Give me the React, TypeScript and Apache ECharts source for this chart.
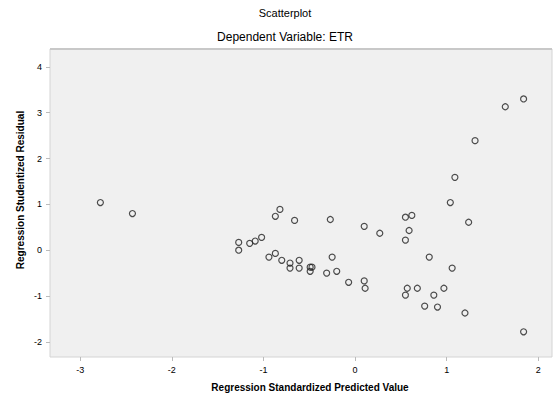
import React, { useEffect, useRef } from "react";
import * as echarts from "echarts";

const xTicks = [-3, -2, -1, 0, 1, 2];
const yTicks = [-2, -1, 0, 1, 2, 3, 4];

const predicted = [
  -2.78, -2.43, -0.87, -0.82, -0.66, -1.27, -1.27, -1.15, -1.09, -1.02,
  -0.94, -0.87, -0.8, -0.71, -0.71, -0.61, -0.61, -0.49, -0.49, 1.09,
  1.04, 1.24, -0.27, 0.1, 0.27, 0.55, 0.62, 0.59, 0.55, 0.81,
  -0.25, -0.47, -0.31, -0.2, -0.07, 0.1, 0.11, 0.57, 0.68, 0.55,
  0.86, 0.97, 1.06, 0.76, 0.9, 1.2, 1.84, 1.84, 1.64, 1.31,
];
const residual = [
  1.04, 0.8, 0.74, 0.89, 0.65, 0.0, 0.17, 0.15, 0.2, 0.28,
  -0.15, -0.07, -0.22, -0.28, -0.39, -0.22, -0.39, -0.37, -0.46, 1.59,
  1.04, 0.61, 0.67, 0.52, 0.37, 0.72, 0.76, 0.43, 0.22, -0.15,
  -0.15, -0.37, -0.5, -0.46, -0.7, -0.67, -0.83, -0.83, -0.83, -0.98,
  -0.98, -0.83, -0.39, -1.22, -1.24, -1.37, -1.78, 3.3, 3.13, 2.39,
];

const titleText = "Scatterplot";
const subtitleText = "Dependent Variable: ETR";
const xName = "Regression Standardized Predicted Value";
const yName = "Regression Studentized Residual";

export default function App() {
  const ref = useRef<HTMLDivElement>(null);
  useEffect(() => {
    if (!ref.current) return;
    const chart = echarts.init(ref.current, null, { renderer: "svg" });
    const font = "Liberation Sans, Arial, sans-serif";
    chart.setOption({
      animation: false,
      backgroundColor: "#ffffff",
      grid: {
        left: 50,
        right: 3,
        top: 49,
        bottom: 40,
        show: true,
        backgroundColor: "#f0f0f0",
        borderColor: "#d4d4d4",
        borderWidth: 1,
      },
      graphic: [
        {
          type: "text",
          x: 285,
          y: 13,
          style: { text: titleText, font: `11px ${font}`, fill: "#000", textAlign: "center", textVerticalAlign: "middle" },
        },
        {
          type: "text",
          x: 285,
          y: 37,
          style: { text: subtitleText, font: `12px ${font}`, fill: "#000", textAlign: "center", textVerticalAlign: "middle" },
        },
        {
          type: "text",
          x: 310,
          y: 387,
          style: { text: xName, font: `bold 10px ${font}`, fill: "#000", textAlign: "center", textVerticalAlign: "middle" },
        },
        {
          type: "text",
          x: 20,
          y: 190,
          rotation: Math.PI / 2,
          style: { text: yName, font: `bold 10px ${font}`, fill: "#000", textAlign: "center", textVerticalAlign: "middle" },
        },
        {
          type: "rect",
          shape: { x: 50, y: 48, width: 502, height: 2 },
          style: { fill: "#c8c8c8" },
          silent: true,
        },
      ],
      xAxis: {
        type: "value",
        min: -3.33,
        max: 2.15,
        splitLine: { show: false },
        axisLine: { show: false, onZero: false },
        axisTick: { show: true, customValues: xTicks, length: 4, lineStyle: { color: "#bbbbbb" } },
        axisLabel: { customValues: xTicks, color: "#000", fontSize: 9, fontFamily: font, margin: 8 },
      },
      yAxis: {
        type: "value",
        min: -2.33,
        max: 4.39,
        splitLine: { show: false },
        axisLine: { show: false, onZero: false },
        axisTick: { show: true, customValues: yTicks, length: 4, lineStyle: { color: "#bbbbbb" } },
        axisLabel: { customValues: yTicks, color: "#000", fontSize: 9, fontFamily: font, margin: 8 },
      },
      series: [
        {
          type: "scatter",
          symbol: "circle",
          symbolSize: 6,
          itemStyle: { color: "transparent", borderColor: "#222222", borderWidth: 1.2 },
          data: predicted.map((x, i) => [x, residual[i]]),
        },
      ],
    });
    return () => chart.dispose();
  }, []);
  return (
    <div
      ref={ref}
      style={{ position: "fixed", left: 0, top: 0, width: 555, height: 397 }}
    />
  );
}
